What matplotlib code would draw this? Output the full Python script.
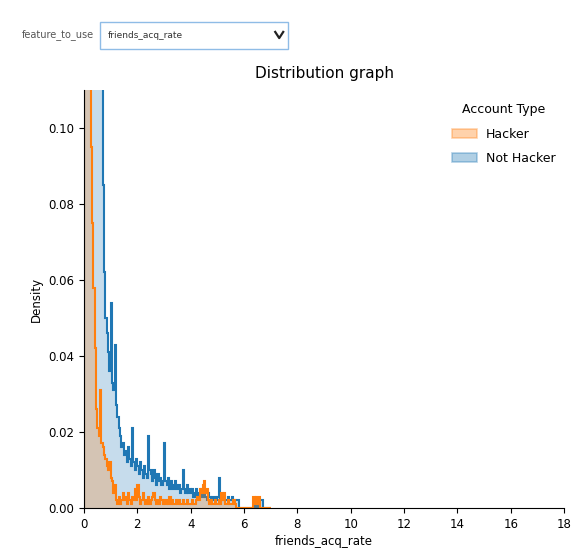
import numpy as np
import matplotlib
matplotlib.use("Agg")
import matplotlib.pyplot as plt
from matplotlib.patches import Rectangle
from matplotlib.lines import Line2D

# bin edges: 0.05 wide from 0 to 7
bin_width = 0.05
n_bins = 140

# density per bin (anything above 0.11 is clipped)
hacker = [
    0.62, 0.41, 0.28, 0.19, 0.14, 0.095, 0.075, 0.058, 0.042, 0.026,
    0.021, 0.019, 0.031, 0.017, 0.016, 0.014, 0.013, 0.011, 0.010, 0.012,
    0.008, 0.007, 0.004, 0.006, 0.002, 0.001, 0.003, 0.001, 0.002, 0.004,
    0.002, 0.003, 0.001, 0.004, 0.002, 0.001, 0.003, 0.002, 0.005, 0.002,
    0.006, 0.003, 0.001, 0.002, 0.004, 0.002, 0.001, 0.002, 0.003, 0.001,
    0.002, 0.003, 0.004, 0.002, 0.001, 0.002, 0.001, 0.003, 0.002, 0.001,
    0.002, 0.001, 0.002, 0.001, 0.003, 0.001, 0.002, 0.001, 0.001, 0.002,
    0.001, 0.002, 0.001, 0.001, 0.002, 0.001, 0.001, 0.002, 0.001, 0.001,
    0.001, 0.002, 0.001, 0.001, 0.002, 0.003, 0.002, 0.005, 0.004, 0.006,
    0.007, 0.004, 0.005, 0.002, 0.001, 0.002, 0.001, 0.001, 0.002, 0.001,
    0.001, 0.002, 0.001, 0.004, 0.002, 0.004, 0.001, 0.001, 0.002, 0.001,
    0.001, 0.001, 0.002, 0.001, 0.0, 0.0, 0.0, 0.0, 0.0, 0.0,
    0.0, 0.0, 0.0, 0.0, 0.0, 0.0, 0.0, 0.003, 0.001, 0.003,
    0.001, 0.003, 0.0, 0.0, 0.0, 0.0, 0.0, 0.0, 0.0, 0.0,
]
not_hacker = [
    0.9, 0.8, 0.7, 0.6, 0.5, 0.42, 0.36, 0.3, 0.25, 0.21,
    0.18, 0.15, 0.13, 0.115, 0.085, 0.062, 0.05, 0.046, 0.041, 0.036,
    0.054, 0.033, 0.031, 0.043, 0.027, 0.024, 0.021, 0.019, 0.016, 0.017,
    0.014, 0.015, 0.012, 0.016, 0.013, 0.011, 0.021, 0.012, 0.010, 0.013,
    0.011, 0.009, 0.012, 0.010, 0.008, 0.011, 0.009, 0.008, 0.019, 0.010,
    0.009, 0.007, 0.010, 0.008, 0.006, 0.009, 0.007, 0.008, 0.006, 0.007,
    0.017, 0.007, 0.006, 0.008, 0.005, 0.007, 0.006, 0.005, 0.007, 0.006,
    0.005, 0.006, 0.004, 0.005, 0.010, 0.005, 0.004, 0.006, 0.004, 0.005,
    0.004, 0.005, 0.003, 0.004, 0.005, 0.003, 0.004, 0.003, 0.005, 0.003,
    0.004, 0.003, 0.002, 0.004, 0.003, 0.002, 0.003, 0.002, 0.003, 0.002,
    0.003, 0.008, 0.002, 0.003, 0.002, 0.003, 0.002, 0.002, 0.003, 0.002,
    0.002, 0.003, 0.002, 0.002, 0.002, 0.002, 0.0, 0.0, 0.0, 0.0,
    0.0, 0.0, 0.0, 0.0, 0.0, 0.0, 0.0, 0.0, 0.002, 0.002,
    0.0, 0.002, 0.002, 0.002, 0.0, 0.0, 0.0, 0.0, 0.0, 0.0,
]
labels = ["Hacker", "Not Hacker"]
colors = ["#ff7f0e", "#1f77b4"]

edges = np.arange(n_bins + 1) * bin_width

fig = plt.figure(figsize=(5.71, 5.6), dpi=100)
ax = fig.add_axes([0.147, 0.093, 0.841, 0.746])

# seaborn-like step histogram, last hue level drawn first
for vals, col in [(not_hacker, colors[1]), (hacker, colors[0])]:
    ax.stairs(vals, edges, fill=True, color=col, alpha=0.25, linewidth=0)
    ax.stairs(vals, edges, color=col, linewidth=1.5)

ax.set_xlim(0, 18)
ax.set_ylim(0, 0.11)
ax.set_xticks(np.arange(0, 19, 2))
ax.set_yticks([0.0, 0.02, 0.04, 0.06, 0.08, 0.10])
ax.set_yticklabels(["0.00", "0.02", "0.04", "0.06", "0.08", "0.10"])
ax.tick_params(labelsize=8.5)
ax.spines["top"].set_visible(False)
ax.spines["right"].set_visible(False)
ax.set_xlabel("friends_acq_rate", fontsize=8.5, labelpad=3)
ax.set_ylabel("Density", fontsize=8.5)
ax.set_title("Distribution graph", fontsize=11, pad=9)

handles = [Rectangle((0, 0), 1, 1, facecolor=c, edgecolor=c, alpha=0.35, linewidth=1.2)
           for c in colors]
ax.legend(handles, labels, title="Account Type", loc="upper right",
          bbox_to_anchor=(1.005, 0.995), frameon=False, fontsize=9,
          title_fontsize=9, labelspacing=0.9, handlelength=2.0, handletextpad=0.7)

# the dropdown widget above the plot
fig.text(0.165, 0.9375, "feature_to_use", fontsize=7, color="#555555",
         ha="right", va="center")
fig.patches.append(Rectangle((0.175, 0.9125), 0.329, 0.048, transform=fig.transFigure,
                             facecolor="white", edgecolor="#8fbce6", linewidth=1))
fig.text(0.188, 0.9375, "friends_acq_rate", fontsize=6.5, color="#333333",
         ha="left", va="center")
fig.lines.append(Line2D([0.482, 0.489, 0.496], [0.943, 0.932, 0.943],
                        transform=fig.transFigure, color="#222222", linewidth=1.6))

fig.savefig("out.png", dpi=100)
